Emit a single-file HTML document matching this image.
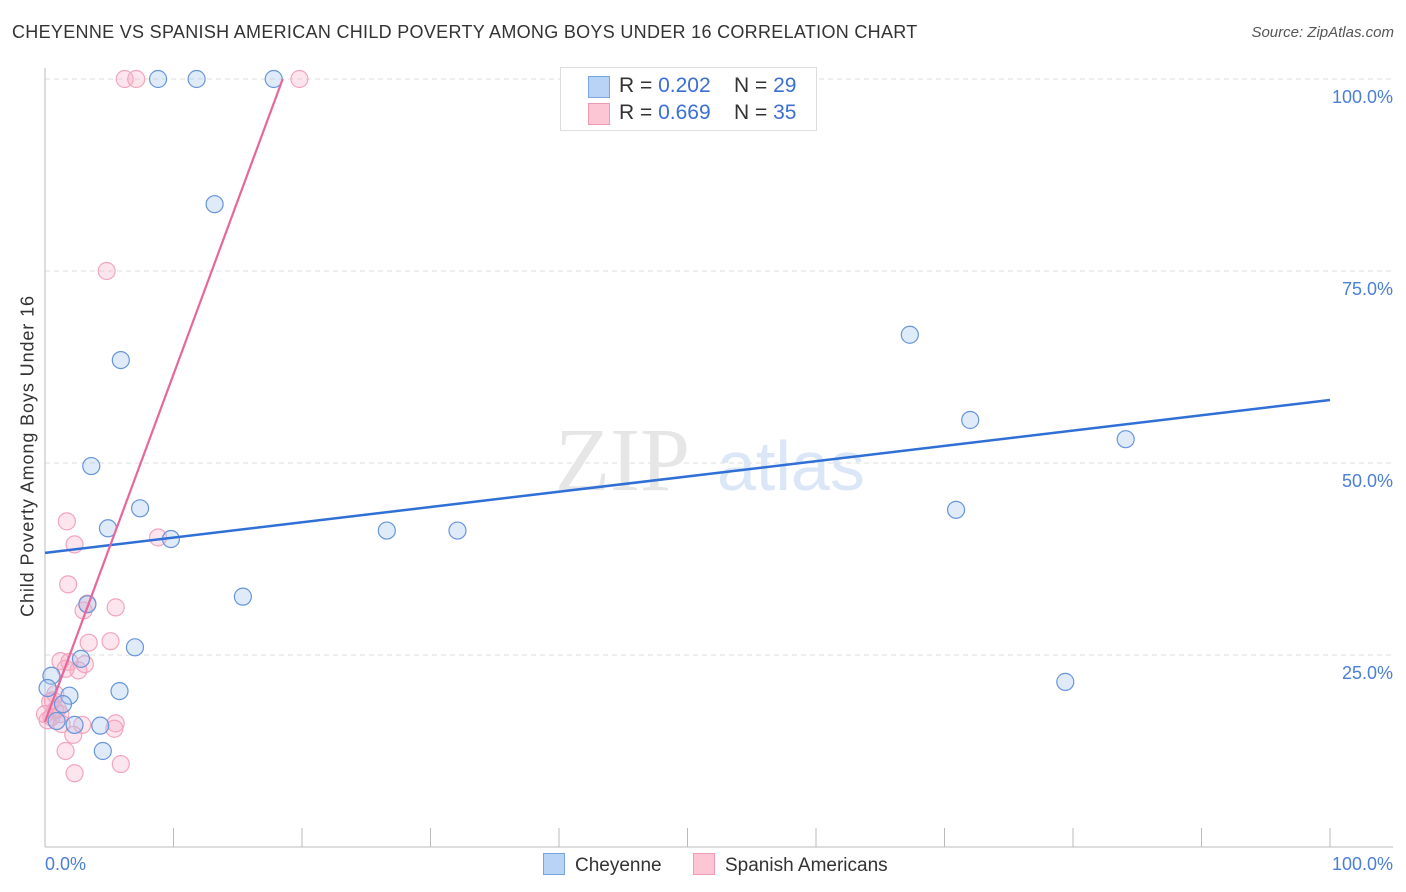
<!DOCTYPE html>
<html><head><meta charset="utf-8"><style>
body{margin:0;background:#fff;font-family:"Liberation Sans",sans-serif;}
#wrap{position:relative;width:1406px;height:892px;overflow:hidden;}
.t{position:absolute;white-space:nowrap;}
</style></head><body>
<div id="wrap">
<div class="t" style="left:12px;top:22px;font-size:18px;letter-spacing:0.3px;color:#333;">CHEYENNE VS SPANISH AMERICAN CHILD POVERTY AMONG BOYS UNDER 16 CORRELATION CHART</div>
<div class="t" style="right:12px;top:24px;font-size:15px;color:#555;font-style:italic;">Source: ZipAtlas.com</div>
<div class="t" style="left:28px;top:456px;font-size:18px;letter-spacing:0.9px;color:#333;transform:translate(-50%,-50%) rotate(-90deg);">Child Poverty Among Boys Under 16</div>
<svg id="plot" width="1406" height="892" style="position:absolute;left:0;top:0"></svg>
<div class="t" style="left:560px;top:67px;width:255px;height:62px;border:1px solid #ddd;background:#fff;font-size:21px;color:#333;">
 <div style="position:absolute;left:27px;top:8px;width:20px;height:20px;background:#b8d3f5;border:1px solid #7aa6e0;"></div>
 <div style="position:absolute;left:58px;top:6px;">R = <span style="color:#3b6fd1">0.202</span>&nbsp;&nbsp;&nbsp; N = <span style="color:#3b6fd1">29</span></div>
 <div style="position:absolute;left:27px;top:35px;width:20px;height:20px;background:#fcc6d5;border:1px solid #f09ab2;"></div>
 <div style="position:absolute;left:58px;top:33px;">R = <span style="color:#3b6fd1">0.669</span>&nbsp;&nbsp;&nbsp; N = <span style="color:#3b6fd1">35</span></div>
</div>
<div class="t" style="left:543px;top:853px;font-size:19px;color:#333;"><span style="display:inline-block;width:20px;height:20px;background:#b8d3f5;border:1px solid #7aa6e0;vertical-align:-4px;margin-right:10px;"></span>Cheyenne</div>
<div class="t" style="left:693px;top:853px;font-size:19px;color:#333;"><span style="display:inline-block;width:20px;height:20px;background:#fcc6d5;border:1px solid #f09ab2;vertical-align:-4px;margin-right:10px;"></span>Spanish Americans</div>
</div>
<script>
const yTicks=[25,50,75,100];
const yTickLabels=["25.0%","50.0%","75.0%","100.0%"];
const xTickLabels=["0.0%","100.0%"];
const cheyX=[8.8,11.8,17.8,13.2,5.9,3.6,4.9,7.4,9.8,15.4,26.6,32.1,67.3,72.0,84.1,70.9,79.4,7.0,3.3,2.8,0.5,0.2,1.9,1.4,5.8,2.3,4.3,4.5,0.9];
const cheyY=[100,100,100,83.7,63.4,49.6,41.5,44.1,40.1,32.6,41.2,41.2,66.7,55.6,53.1,43.9,21.5,26.0,31.6,24.5,22.3,20.7,19.7,18.6,20.3,15.9,15.8,12.5,16.4];
const spanX=[6.2,7.1,19.8,4.8,1.7,2.3,8.8,1.8,3.3,3.0,5.5,3.4,5.1,1.2,1.9,3.1,2.6,1.6,0.8,0.4,0.8,1.2,0.5,0.2,1.3,2.9,5.5,5.4,2.2,1.6,5.9,2.3,1.0,0.0,0.6];
const spanY=[100,100,100,75.0,42.4,39.4,40.3,34.2,31.7,30.8,31.2,26.6,26.8,24.2,24.1,23.8,23.0,23.2,19.9,18.9,17.8,17.3,16.9,16.5,16.0,15.9,16.1,15.4,14.6,12.5,10.8,9.6,18.0,17.3,19.1];
const cheyTrend=[38.3,58.2];
const spanTrend=[16.3,100,18.5];
const X0=45,X1=1330,Y0=847,Y100=79;
const sx=v=>X0+(X1-X0)*v/100, sy=v=>Y0-(Y0-Y100)*v/100;
const svg=document.getElementById('plot');const NS='http://www.w3.org/2000/svg';
function mk(t,a){const e=document.createElementNS(NS,t);for(const k in a)e.setAttribute(k,a[k]);svg.appendChild(e);return e;}
yTicks.forEach((v,i)=>{
 const g=mk('line',{x1:45,x2:1393,y1:sy(v),y2:sy(v),stroke:'#ddd','stroke-dasharray':'5,4'});
 
 
 const t=mk('text',{x:1393,y:sy(v)+24,'text-anchor':'end','font-size':18,fill:'#4a7fd6','font-family':'Liberation Sans, sans-serif'});
 t.textContent=yTickLabels[i];
 
 
});
const ax=mk('line',{x1:45,x2:45,y1:68,y2:847,stroke:'#bbb'});


const bx=mk('line',{x1:45,x2:1393,y1:847,y2:847,stroke:'#bbb'});


for(let i=0;i<=10;i++){
 const tk=mk('line',{x1:sx(i*10),x2:sx(i*10),y1:828,y2:847,stroke:'#bbb'});
 
 
}
[[0,'start',45],[1,'end',1393]].forEach(([i,a,x])=>{
 const t=mk('text',{x:x,y:870,'text-anchor':a,'font-size':18,fill:'#4a7fd6','font-family':'Liberation Sans, sans-serif'});
 t.textContent=xTickLabels[i];
 
 
});
const w1=mk('text',{x:555,y:490,'font-size':90,fill:'#e6e6e6','font-family':'Liberation Serif, serif'});w1.textContent='ZIP';


const w2=mk('text',{x:717,y:490,'font-size':70,fill:'#dbe7f6','font-family':'Liberation Sans, sans-serif'});w2.textContent='atlas';


spanX.forEach((v,i)=>{
 const c=mk('circle',{cx:sx(v),cy:sy(spanY[i]),r:8.5,fill:'rgba(248,170,195,0.3)',stroke:'#f2a5bc','stroke-width':1.2});
 
 
});
cheyX.forEach((v,i)=>{
 const c=mk('circle',{cx:sx(v),cy:sy(cheyY[i]),r:8.5,fill:'rgba(165,198,240,0.35)',stroke:'#6795db','stroke-width':1.2});
 
 
});
const l1=mk('line',{x1:sx(0),y1:sy(cheyTrend[0]),x2:sx(100),y2:sy(cheyTrend[1]),stroke:'#2f6fd6','stroke-width':2.5});


const l2=mk('line',{x1:sx(0),y1:sy(spanTrend[0]),x2:sx(spanTrend[2]),y2:sy(spanTrend[1]),stroke:'#e8679a','stroke-width':2.2});


</script>
</body></html>
